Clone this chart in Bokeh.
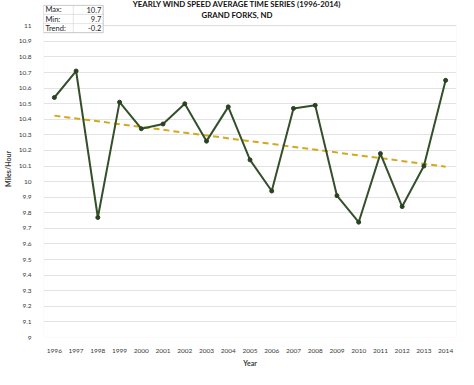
import numpy as np
from bokeh.plotting import figure
from bokeh.models import FixedTicker, NumeralTickFormatter, Label, BoxAnnotation, Range1d
from bokeh.embed import file_html
from bokeh.resources import INLINE

# ---------------- data ----------------
years = [1996, 1997, 1998, 1999, 2000, 2001, 2002, 2003, 2004, 2005,
         2006, 2007, 2008, 2009, 2010, 2011, 2012, 2013, 2014]
wind_speed = [10.54, 10.71, 9.77, 10.51, 10.34, 10.37, 10.50, 10.26, 10.48, 10.14,
              9.94, 10.47, 10.49, 9.91, 9.74, 10.18, 9.84, 10.10, 10.65]
y_ticks = [9.0, 9.1, 9.2, 9.3, 9.4, 9.5, 9.6, 9.7, 9.8, 9.9, 10.0,
           10.1, 10.2, 10.3, 10.4, 10.5, 10.6, 10.7, 10.8, 10.9, 11.0]
stats_names = ["Max:", "Min:", "Trend:"]
stats_values = ["10.7", "9.7", "-0.2"]
title_lines = ["YEARLY WIND SPEED AVERAGE TIME SERIES (1996-2014)", "GRAND FORKS, ND"]

FONT = "Lato"
W, H = 458, 369
FL, FW = 27, 429        # frame left / width (px)
PT, PB = 26, 346        # pixel rows of the 11 and 9 gridlines inside the figure
FB = 23                 # bottom border

y_lo, y_hi = y_ticks[0], y_ticks[-1]
px_per_unit = (PB - PT) / (y_hi - y_lo)
x0, x1 = years[0] - 0.5, years[-1] + 0.5
y_top = y_hi + PT / px_per_unit   # frame extends up to the top of the figure

p = figure(width=W, height=H, output_backend="svg", toolbar_location=None,
           x_range=Range1d(x0, x1), y_range=Range1d(y_lo, y_top),
           min_border_left=FL, min_border_top=0, min_border_right=W - FL - FW,
           min_border_bottom=FB, title=None)
p.background_fill_color = "white"
p.border_fill_color = "white"
p.outline_line_color = None

# px (relative to the figure) -> data units
def dx(px):
    return x0 + (px - FL) * (x1 - x0) / FW

def dy(py):
    return y_hi - (py - PT) / px_per_unit

# axes
p.xaxis.ticker = FixedTicker(ticks=years)
p.yaxis.ticker = FixedTicker(ticks=y_ticks)
p.yaxis.formatter = NumeralTickFormatter(format="0.[0]")
for ax in (p.xaxis[0], p.yaxis[0]):
    ax.axis_line_color = None
    ax.major_tick_line_color = None
    ax.minor_tick_line_color = None
    ax.major_label_text_font = FONT
    ax.major_label_text_font_size = "6.5px"
    ax.major_label_text_color = "#3a3a3a"
    ax.axis_label_text_font = FONT
    ax.axis_label_text_font_size = "7px"
    ax.axis_label_text_font_style = "bold"
    ax.axis_label_text_color = "#3a3a3a"
p.xaxis.axis_label = "Year"
p.yaxis.axis_label = "Miles/Hour"
p.xaxis.major_label_standoff = 5
p.xaxis.axis_label_standoff = 3
p.yaxis.major_label_standoff = 6
p.yaxis.axis_label_standoff = 4
p.xgrid.grid_line_color = None
p.ygrid.grid_line_color = "#e3e3e3"
p.ygrid.grid_line_width = 1

# plot-area border (9 .. 11)
p.add_layout(BoxAnnotation(left=x0, right=x1, bottom=y_lo, top=y_hi, fill_alpha=0,
                           line_color="#d9d9d9", line_width=1, level="underlay"))

# trend line (least squares fit of the series)
slope, intercept = np.polyfit(years, wind_speed, 1)
trend_x = [years[0], years[-1]]
trend_y = [slope * x + intercept for x in trend_x]
p.line(trend_x, trend_y, line_color="#d4a81c", line_width=2, line_dash="6 4")

# series
p.line(years, wind_speed, line_color="#33502a", line_width=2)
p.scatter(years, wind_speed, size=4, color="#2a4221")

# titles
for i, t in enumerate(title_lines):
    p.add_layout(Label(x=dx(228), y=dy(3.5 + 11 * i), text=t, text_align="center",
                       text_baseline="middle", text_font=FONT, text_font_size="7.8px",
                       text_font_style="bold", text_color="#111111"))

# stats table
tl, tm, tr = 27, 58, 89
rows = [5, 14.3, 23.7, 33]
for r in range(3):
    for (a, b) in ((tl, tm), (tm, tr)):
        p.add_layout(BoxAnnotation(left=dx(a), right=dx(b), top=dy(rows[r]), bottom=dy(rows[r + 1]),
                                   fill_color="white", fill_alpha=1, line_color="#bfbfbf",
                                   line_width=1, level="overlay"))
p.add_layout(BoxAnnotation(left=dx(tl), right=dx(tr), top=dy(rows[0]), bottom=dy(rows[3]),
                           fill_alpha=0, line_color="#7f7f7f", line_width=1, level="overlay"))
for r in range(3):
    yc = dy((rows[r] + rows[r + 1]) / 2)
    p.add_layout(Label(x=dx(tl + 2), y=yc, text=stats_names[r], text_align="left",
                       text_baseline="middle", text_font=FONT, text_font_size="7.5px",
                       text_color="#222222", level="overlay"))
    p.add_layout(Label(x=dx(tr - 2), y=yc, text=stats_values[r], text_align="right",
                       text_baseline="middle", text_font=FONT, text_font_size="7.5px",
                       text_color="#222222", level="overlay"))

open("out.html", "w").write(file_html(p, INLINE))
